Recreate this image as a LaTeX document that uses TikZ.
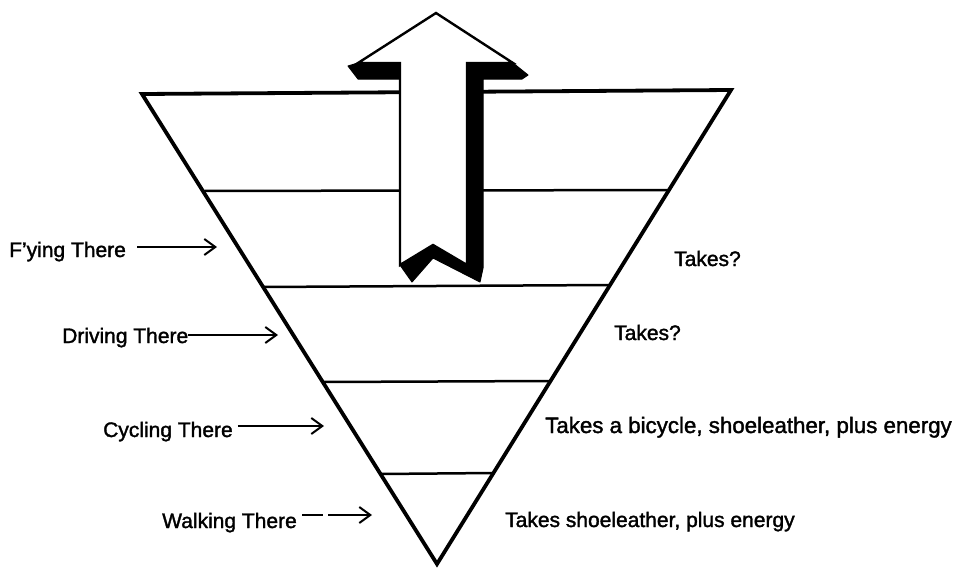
\documentclass[tikz,border=0pt]{standalone}
\usepackage{fontspec}
\setmainfont{Liberation Sans}[FakeBold=1.6]
\usetikzlibrary{arrows.meta}
\begin{document}
\begin{tikzpicture}[x=1pt,y=-1pt,
  lbl/.style={inner sep=0pt, anchor=base west, font=\fontsize{21}{25}\selectfont},
  edgeline/.style={line width=3.8pt, line join=miter},
  band/.style={line width=2.5pt},
  pointer/.style={line width=2pt, -{Straight Barb[length=11pt,width=16pt,line width=2pt]}},
  shadow/.style={fill=black, draw=black, line width=1pt, line join=round},
  face/.style={fill=white, draw=black, line width=2.4pt, line join=miter}
  ]
\useasboundingbox (0,0) rectangle (964,568);
% triangle
\coordinate (TL) at (142,94);
\coordinate (TR) at (731,90);
\coordinate (AP) at (437,564);
\draw[edgeline] (TL) -- (TR) -- (AP) -- cycle;
% bands
\coordinate (b1l) at (203,191); \coordinate (b1r) at (668,190);
\coordinate (b2l) at (262,287); \coordinate (b2r) at (609,285);
\coordinate (b3l) at (323,382); \coordinate (b3r) at (550,381);
\coordinate (b4l) at (380,474); \coordinate (b4r) at (493,473);
\draw[band] (b1l) -- (b1r);
\draw[band] (b2l) -- (b2r);
\draw[band] (b3l) -- (b3r);
\draw[band] (b4l) -- (b4r);
% block arrow: shadow
\fill[shadow] (358,63) -- (348,66) -- (358,79) -- (400,79) -- (400,63) -- cycle;
\fill[shadow] (467,63) -- (513,63) -- (528,75) -- (522,79) -- (483,79) -- (483,268)
  -- (480,282) -- (433,258) -- (412,282) -- (400,265) -- (433,245) -- (467,265) -- cycle;
% block arrow: face
\draw[face] (436,13) -- (513,63) -- (467,63) -- (467,265) -- (433,245) -- (400,265)
  -- (400,63) -- (358,63) -- cycle;
% left labels
\node[lbl] (fly) at (9,257) {F'ying There};
\node[lbl] (drive) at (62,343) {Driving There};
\node[lbl] (cycle) at (103,437) {Cycling There};
\node[lbl] (walk) at (162,528) {Walking There};
\coordinate (flyE) at (217,247);
\coordinate (driveE) at (278,335);
\coordinate (cycleE) at (324,426);
\coordinate (walkE) at (372,515);
\draw[pointer] ([xshift=11pt]flyE -| fly.east) -- (flyE);
\draw[pointer] ([xshift=0pt]driveE -| drive.east) -- (driveE);
\draw[pointer] ([xshift=5pt]cycleE -| cycle.east) -- (cycleE);
\draw[pointer, dash pattern=on 21pt off 5pt on 60pt] ([xshift=5pt]walkE -| walk.east) -- (walkE);
% right labels
\node[lbl] (t1) at (674,266) {Takes?};
\node[lbl] (t2) at (614,340) {Takes?};
\node[lbl, font=\fontsize{22.3}{26}\selectfont] (t3) at (545,433) {Takes a bicycle, shoeleather, plus energy};
\node[lbl] (t4) at (505,527) {Takes shoeleather, plus energy};
\end{tikzpicture}
\end{document}
